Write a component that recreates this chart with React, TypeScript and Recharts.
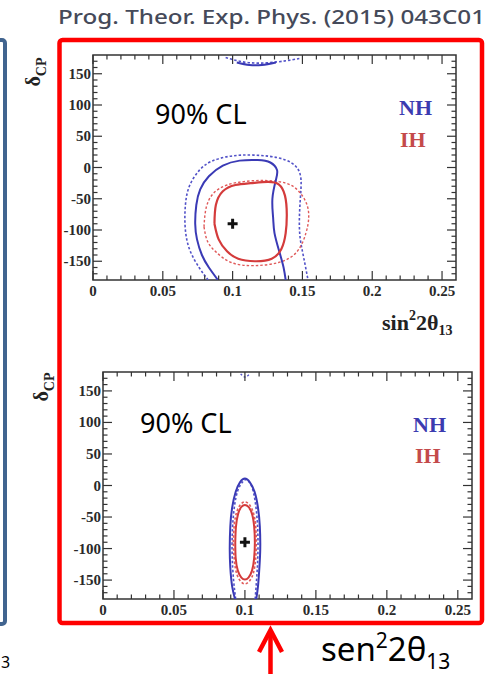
import React from 'react';
import { ComposedChart, Line, Scatter, XAxis, YAxis, ReferenceArea } from 'recharts';

// ---------- axis ticks ----------
const xMajorTicks = [0, 0.05, 0.1, 0.15, 0.2, 0.25];
const xTickLabels = ['0', '0.05', '0.1', '0.15', '0.2', '0.25'];
const xAllTicks = [0, 0.01, 0.02, 0.03, 0.04, 0.05, 0.06, 0.07, 0.08, 0.09, 0.1, 0.11, 0.12, 0.13, 0.14, 0.15, 0.16, 0.17, 0.18, 0.19, 0.2, 0.21, 0.22, 0.23, 0.24, 0.25];
const yMajorTicks = [-150, -100, -50, 0, 50, 100, 150];
const yAllTicks = [-170, -160, -150, -140, -130, -120, -110, -100, -90, -80, -70, -60, -50, -40, -30, -20, -10, 0, 10, 20, 30, 40, 50, 60, 70, 80, 90, 100, 110, 120, 130, 140, 150, 160, 170];
const xDomain = [0, 0.26];
const yDomain = [-180, 180];

// ---------- top panel contours ----------
const nhSolidTop = [
  { x: 0.0895, y: -180 }, { x: 0.083, y: -160 }, { x: 0.078, y: -140 }, { x: 0.0745, y: -115 },
  { x: 0.0732, y: -90 }, { x: 0.074, y: -60 }, { x: 0.0768, y: -35 }, { x: 0.083, y: -14 },
  { x: 0.093, y: 3 }, { x: 0.105, y: 11 }, { x: 0.118, y: 12 }, { x: 0.127, y: 8 },
  { x: 0.1318, y: -4 }, { x: 0.131, y: -20 }, { x: 0.1285, y: -50 }, { x: 0.129, y: -80 },
  { x: 0.13, y: -105 }, { x: 0.1335, y: -135 }, { x: 0.1365, y: -160 }, { x: 0.138, y: -180 },
];
const nhDashTop = [
  { x: 0.0825, y: -180 }, { x: 0.076, y: -160 }, { x: 0.069, y: -130 }, { x: 0.066, y: -95 },
  { x: 0.0662, y: -60 }, { x: 0.069, y: -30 }, { x: 0.076, y: -5 }, { x: 0.085, y: 10 },
  { x: 0.098, y: 18 }, { x: 0.112, y: 20 }, { x: 0.126, y: 18 }, { x: 0.138, y: 12 },
  { x: 0.146, y: 0 }, { x: 0.149, y: -20 }, { x: 0.1485, y: -50 }, { x: 0.1478, y: -85 },
  { x: 0.1485, y: -115 }, { x: 0.151, y: -145 }, { x: 0.154, y: -180 },
];
const nhDashTopWrap = [
  { x: 0.095, y: 176 }, { x: 0.105, y: 170 }, { x: 0.118, y: 167 }, { x: 0.132, y: 169 },
  { x: 0.142, y: 172 }, { x: 0.149, y: 175 },
];
const nhSolidTopWrap = [
  { x: 0.103, y: 168 }, { x: 0.112, y: 164 }, { x: 0.121, y: 164 }, { x: 0.131, y: 168 },
];
const ihSolidTop = [
  { x: 0.087, y: -90 }, { x: 0.088, y: -60 }, { x: 0.093, y: -38 }, { x: 0.102, y: -28 },
  { x: 0.113, y: -25 }, { x: 0.125, y: -23 }, { x: 0.133, y: -27 }, { x: 0.1375, y: -45 },
  { x: 0.1388, y: -75 }, { x: 0.138, y: -105 }, { x: 0.135, y: -130 }, { x: 0.128, y: -146 },
  { x: 0.116, y: -150 }, { x: 0.104, y: -146 }, { x: 0.096, y: -134 }, { x: 0.09, y: -115 },
  { x: 0.087, y: -90 },
];
const ihDashTop = [
  { x: 0.0795, y: -95 }, { x: 0.081, y: -65 }, { x: 0.086, y: -42 }, { x: 0.096, y: -28 },
  { x: 0.11, y: -22 }, { x: 0.125, y: -21 }, { x: 0.138, y: -25 }, { x: 0.147, y: -37 },
  { x: 0.153, y: -58 }, { x: 0.1545, y: -80 }, { x: 0.1525, y: -105 }, { x: 0.146, y: -135 },
  { x: 0.133, y: -152 }, { x: 0.115, y: -157 }, { x: 0.099, y: -152 }, { x: 0.088, y: -135 },
  { x: 0.082, y: -118 }, { x: 0.0795, y: -95 },
];
const bestFitTop = [{ x: 0.1, y: -90 }];

// ---------- bottom panel contours ----------
const nhSolidBot = [
  { x: 0.093, y: -180 }, { x: 0.091, y: -160 }, { x: 0.0897, y: -130 }, { x: 0.0893, y: -100 },
  { x: 0.0897, y: -65 }, { x: 0.091, y: -35 }, { x: 0.0935, y: -10 }, { x: 0.0965, y: 5 },
  { x: 0.1, y: 11 }, { x: 0.1035, y: 5 }, { x: 0.1068, y: -10 }, { x: 0.1092, y: -35 },
  { x: 0.1105, y: -65 }, { x: 0.1108, y: -100 }, { x: 0.1102, y: -130 }, { x: 0.1092, y: -160 },
  { x: 0.108, y: -180 },
];
const nhDashBot = [
  { x: 0.0935, y: -180 }, { x: 0.092, y: -150 }, { x: 0.091, y: -110 }, { x: 0.0912, y: -70 },
  { x: 0.0925, y: -35 }, { x: 0.095, y: -8 }, { x: 0.0985, y: 6 }, { x: 0.101, y: 9 },
  { x: 0.1045, y: 0 }, { x: 0.1072, y: -25 }, { x: 0.1088, y: -60 }, { x: 0.1092, y: -100 },
  { x: 0.1085, y: -140 }, { x: 0.1072, y: -180 },
];
const nhDashBotWrap = [{ x: 0.097, y: 177 }, { x: 0.1, y: 172 }, { x: 0.103, y: 176 }];
const ihSolidBot = [
  { x: 0.0932, y: -90 }, { x: 0.0937, y: -65 }, { x: 0.0952, y: -45 }, { x: 0.0975, y: -34 },
  { x: 0.1, y: -31 }, { x: 0.1025, y: -34 }, { x: 0.105, y: -45 }, { x: 0.1065, y: -65 },
  { x: 0.107, y: -90 }, { x: 0.1065, y: -115 }, { x: 0.105, y: -135 }, { x: 0.1025, y: -146 },
  { x: 0.1, y: -149 }, { x: 0.0975, y: -146 }, { x: 0.095, y: -135 }, { x: 0.0935, y: -115 },
  { x: 0.0932, y: -90 },
];
const ihDashBot = [
  { x: 0.0918, y: -90 }, { x: 0.0925, y: -62 }, { x: 0.0942, y: -42 }, { x: 0.097, y: -30 },
  { x: 0.1, y: -26 }, { x: 0.103, y: -30 }, { x: 0.1058, y: -42 }, { x: 0.1075, y: -62 },
  { x: 0.108, y: -90 }, { x: 0.1075, y: -118 }, { x: 0.1058, y: -140 }, { x: 0.103, y: -152 },
  { x: 0.1, y: -156 }, { x: 0.097, y: -152 }, { x: 0.0942, y: -140 }, { x: 0.0925, y: -118 },
  { x: 0.0918, y: -90 },
];
const bestFitBot = [{ x: 0.1, y: -90 }];

// ---------- styles ----------
const AXIS = '#333';
const TICKFONT = { fontFamily: '"Liberation Serif", serif', fontWeight: 700, fontSize: 15, fill: '#2a2a2a' };
const BLUE = '#3a3ab5';
const BLUE_D = '#5252c8';
const RED = '#d43b3b';
const RED_D = '#e05a5a';

function makeXTick(plotH: number) {
  return (props: any) => {
    const { x, y, payload } = props;
    const v = payload.value;
    const mi = xMajorTicks.findIndex((m) => Math.abs(m - v) < 1e-6);
    const len = mi >= 0 ? 9 : 4.5;
    return (
      <g>
        <line x1={x} y1={y} x2={x} y2={y - len} stroke={AXIS} strokeWidth={1.2} />
        <line x1={x} y1={y - plotH} x2={x} y2={y - plotH + len} stroke={AXIS} strokeWidth={1.2} />
        {mi >= 0 && (
          <text x={x} y={y + 16} textAnchor="middle" {...TICKFONT}>
            {xTickLabels[mi]}
          </text>
        )}
      </g>
    );
  };
}

function makeYTick(plotW: number) {
  return (props: any) => {
    const { x, y, payload } = props;
    const v = payload.value;
    const major = yMajorTicks.indexOf(v) >= 0;
    const len = major ? 9 : 4.5;
    return (
      <g>
        <line x1={x} y1={y} x2={x + len} y2={y} stroke={AXIS} strokeWidth={1.2} />
        <line x1={x + plotW} y1={y} x2={x + plotW - len} y2={y} stroke={AXIS} strokeWidth={1.2} />
        {major && (
          <text x={x - 2} y={y + 5} textAnchor="end" {...TICKFONT}>
            {String(v)}
          </text>
        )}
      </g>
    );
  };
}

const CrossShape = (props: any) => {
  const { cx, cy } = props;
  return (
    <g>
      <line x1={cx - 5} y1={cy} x2={cx + 5} y2={cy} stroke="#111" strokeWidth={3} />
      <line x1={cx} y1={cy - 5} x2={cx} y2={cy + 5} stroke="#111" strokeWidth={3} />
    </g>
  );
};

type Pt = { x: number; y: number };
type Series = { data: Pt[]; color: string; width: number; dash?: string };

function Panel(props: {
  width: number;
  height: number;
  margin: { top: number; right: number; bottom: number; left: number };
  series: Series[];
  best: Pt[];
}) {
  const { width, height, margin, series, best } = props;
  // axes take 1px each
  const plotW = width - margin.left - margin.right - 1;
  const plotH = height - margin.top - margin.bottom - 1;
  return (
    <ComposedChart width={width} height={height} margin={margin}>
      <XAxis
        dataKey="x"
        type="number"
        domain={xDomain}
        ticks={xAllTicks}
        interval={0}
        height={1}
        tickSize={0}
        tickMargin={0}
        axisLine={false}
        tickLine={false}
        allowDataOverflow
        tick={makeXTick(plotH)}
      />
      <YAxis
        type="number"
        domain={yDomain}
        ticks={yAllTicks}
        interval={0}
        width={1}
        tickSize={0}
        tickMargin={0}
        axisLine={false}
        tickLine={false}
        allowDataOverflow
        tick={makeYTick(plotW)}
      />
      <ReferenceArea x1={0} x2={0.26} y1={-180} y2={180} fill="none" stroke={AXIS} strokeWidth={1.5} fillOpacity={0} />
      {series.map((s, i) => (
        <Line
          key={i}
          data={s.data}
          dataKey="y"
          type="natural"
          stroke={s.color}
          strokeWidth={s.width}
          strokeDasharray={s.dash}
          dot={false}
          activeDot={false}
          isAnimationActive={false}
        />
      ))}
      <Scatter data={best} dataKey="y" shape={CrossShape} isAnimationActive={false} />
    </ComposedChart>
  );
}

const topSeries: Series[] = [
  { data: nhDashTop, color: BLUE_D, width: 1.6, dash: '2.5 2' },
  { data: nhDashTopWrap, color: BLUE_D, width: 1.6, dash: '2.5 2' },
  { data: ihDashTop, color: RED_D, width: 1.4, dash: '2.5 2' },
  { data: nhSolidTop, color: BLUE, width: 2 },
  { data: nhSolidTopWrap, color: BLUE, width: 2 },
  { data: ihSolidTop, color: RED, width: 2.2 },
];
const botSeries: Series[] = [
  { data: nhDashBot, color: BLUE_D, width: 1.6, dash: '2.5 2' },
  { data: nhDashBotWrap, color: BLUE_D, width: 1.4, dash: '2 2' },
  { data: ihDashBot, color: RED_D, width: 1.6, dash: '2.5 2' },
  { data: nhSolidBot, color: BLUE, width: 2 },
  { data: ihSolidBot, color: RED, width: 2 },
];

const serif = '"Liberation Serif", serif';
const sans = '"Noto Sans", sans-serif';

export default function App() {
  return (
    <div style={{ position: 'absolute', left: 0, top: 0, width: 496, height: 674, overflow: 'hidden', background: '#fff' }}>
      <div style={{ position: 'absolute', left: 0, top: 0 }}>
        <Panel width={496} height={330} margin={{ top: 55, right: 40, bottom: 49, left: 92 }} series={topSeries} best={bestFitTop} />
      </div>
      <div style={{ position: 'absolute', left: 0, top: 340 }}>
        <Panel width={496} height={300} margin={{ top: 32, right: 24, bottom: 40, left: 102 }} series={botSeries} best={bestFitBot} />
      </div>
      <svg width={496} height={674} style={{ position: 'absolute', left: 0, top: 0, pointerEvents: 'none' }}>
        <text x={58} y={24} fontFamily={sans} fontSize={20} fontWeight={500} fill="#454a5a" textLength={427} lengthAdjust="spacingAndGlyphs">
          Prog. Theor. Exp. Phys. (2015) 043C01
        </text>
        <rect x={-20} y={40} width={25} height={584} rx={3} fill="none" stroke="#41648f" strokeWidth={4} />
        <rect x={59.5} y={40} width={422.5} height={583} rx={3} fill="none" stroke="#ff0000" strokeWidth={4.5} />

        {/* top panel annotations */}
        <text x={155} y={124} fontFamily={sans} fontSize={27} fill="#000">90% CL</text>
        <text x={399} y={115} fontFamily={serif} fontWeight={700} fontSize={22} fill="#3b3bb0">NH</text>
        <text x={400} y={147} fontFamily={serif} fontWeight={700} fontSize={22} fill="#c44a4a">IH</text>
        <text transform="rotate(-90 40 72)" x={40} y={72} textAnchor="middle" fontFamily={serif} fontWeight={700} fontSize={20} fill="#222">
          δ<tspan fontSize={14} dy={6}>CP</tspan>
        </text>
        <text x={382} y={330} fontFamily={serif} fontWeight={700} fontSize={22} fill="#222">
          sin<tspan fontSize={14} dy={-10}>2</tspan><tspan dy={10}>2θ</tspan><tspan fontSize={14} dy={5}>13</tspan>
        </text>

        {/* bottom panel annotations */}
        <text x={140} y={433} fontFamily={sans} fontSize={27} fill="#000">90% CL</text>
        <text x={413} y={432} fontFamily={serif} fontWeight={700} fontSize={22} fill="#3b3bb0">NH</text>
        <text x={415} y={463} fontFamily={serif} fontWeight={700} fontSize={22} fill="#c44a4a">IH</text>
        <text transform="rotate(-90 48 387)" x={48} y={387} textAnchor="middle" fontFamily={serif} fontWeight={700} fontSize={20} fill="#222">
          δ<tspan fontSize={14} dy={6}>CP</tspan>
        </text>

        {/* arrow and outer label */}
        <line x1={270.5} y1={674} x2={270.5} y2={631} stroke="#ff0000" strokeWidth={4.5} />
        <polyline points="259,652 270.5,630 282,652" fill="none" stroke="#ff0000" strokeWidth={4.5} />
        <text x={321} y={661} fontFamily={sans} fontSize={33} fill="#000">
          sen<tspan fontSize={21} dy={-13}>2</tspan><tspan dy={13}>2θ</tspan><tspan fontSize={21} dy={8}>13</tspan>
        </text>
        <text x={1} y={668} fontFamily={sans} fontSize={16} fill="#000">3</text>
      </svg>
    </div>
  );
}
